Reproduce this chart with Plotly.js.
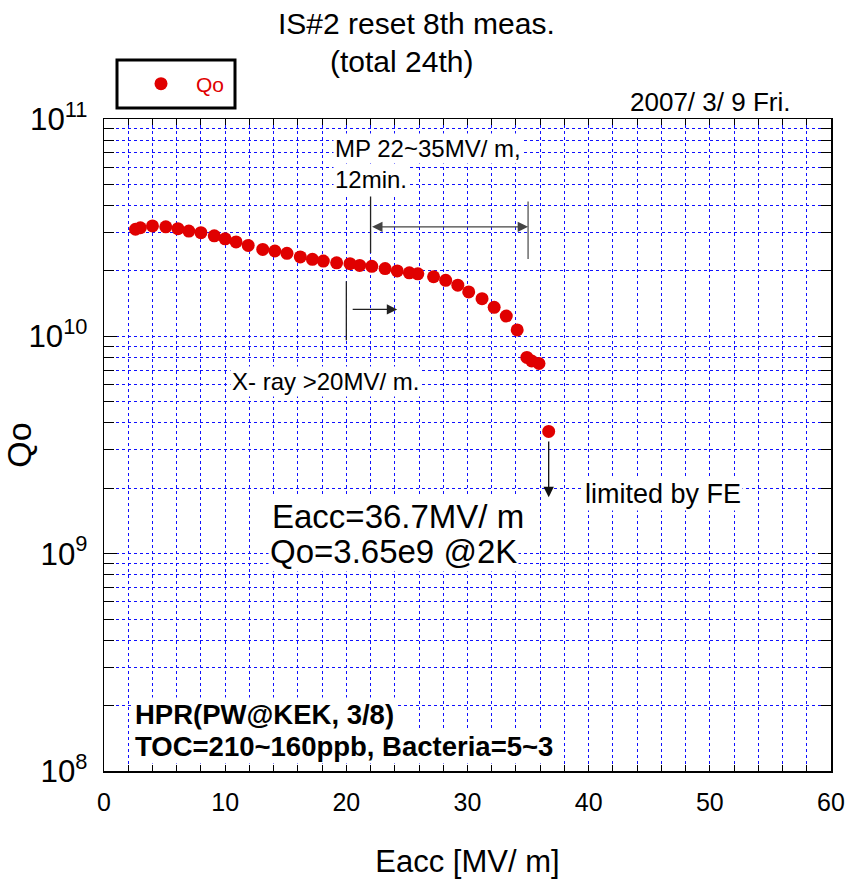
<!DOCTYPE html>
<html>
<head>
<meta charset="utf-8">
<script src="https://cdn.plot.ly/plotly-3.0.1.min.js"></script>
<style>html,body{margin:0;padding:0;background:#fff;}#chart{width:850px;height:883px;}</style>
</head>
<body>
<div id="chart"></div>
<script>
// Data
var eacc = [2.6, 3.0, 4.0, 5.1, 6.1, 7.0, 8.0, 9.1, 10.0, 10.9, 11.9, 13.1, 14.1, 15.1, 16.2, 17.2, 18.1, 19.2, 20.3, 21.1, 22.1, 23.2, 24.2, 25.2, 25.9, 27.2, 28.2, 29.2, 30.1, 31.2, 32.2, 33.2, 34.1, 34.9, 35.3, 35.9, 36.7];
var qo = [3.11e10, 3.16e10, 3.22e10, 3.19e10, 3.13e10, 3.05e10, 3.00e10, 2.90e10, 2.81e10, 2.72e10, 2.62e10, 2.51e10, 2.47e10, 2.41e10, 2.32e10, 2.26e10, 2.22e10, 2.18e10, 2.16e10, 2.12e10, 2.10e10, 2.05e10, 2.00e10, 1.96e10, 1.94e10, 1.88e10, 1.81e10, 1.72e10, 1.60e10, 1.49e10, 1.36e10, 1.24e10, 1.07e10, 8.0e9, 7.7e9, 7.5e9, 3.65e9];
var xTicks = [0, 10, 20, 30, 40, 50, 60];

var FONT = 'Liberation Sans, Arial, Helvetica, sans-serif';
var GRID = '#1010ff';
var DASH = '3px,3px';

// plot area geometry (px) used to place paper-referenced texts
var L = 104, R = 831, T = 119, B = 771;
function px(x){ return (x - L) / (R - L); }
function py(y){ return (B - y) / (B - T); }
function lg(v){ return Math.log10(v); }

function txt(text, x, y, size, opts){
  var a = {text: text, xref: 'paper', yref: 'paper', x: px(x), y: py(y), xanchor: 'left', yanchor: 'middle',
    showarrow: false, font: {family: FONT, size: size, color: '#000'}, bgcolor: '#fff', borderpad: 1};
  for (var k in (opts || {})) a[k] = opts[k];
  return a;
}
function arrowAnn(x0, y0, x1, y1, opts){
  var a = {x: x1, y: lg(y1), ax: x0, ay: lg(y0), xref: 'x', yref: 'y', axref: 'x', ayref: 'y',
    text: '', showarrow: true, arrowhead: 2, arrowsize: 1.6, arrowwidth: 1.3, arrowcolor: '#222', standoff: 0, startstandoff: 0};
  for (var k in (opts || {})) a[k] = opts[k];
  return a;
}
function lineAnn(x0, y0, x1, y1, color){
  return arrowAnn(x0, y0, x1, y1, {arrowhead: 0, arrowcolor: color || '#222', arrowwidth: 1.3});
}

var trace = {
  x: eacc, y: qo, type: 'scatter', mode: 'markers', name: 'Qo',
  marker: {color: '#e00000', size: 13, line: {width: 0}}
};

var annotations = [
  txt('IS#2 reset 8th meas.', 416.5, 23.5, 30, {xanchor: 'center', bgcolor: 'rgba(0,0,0,0)'}),
  txt('(total 24th)', 401.7, 61.5, 30, {xanchor: 'center', bgcolor: 'rgba(0,0,0,0)'}),
  txt('2007/ 3/ 9 Fri.', 792, 101.7, 26, {xanchor: 'right', bgcolor: 'rgba(0,0,0,0)'}),
  txt('MP 22~35MV/ m,', 333, 149, 24),
  txt('12min.', 333, 179.5, 24),
  txt('X- ray >20MV/ m.', 230, 381, 24),
  txt('limited by FE', 583, 494, 27),
  txt('Eacc=36.7MV/ m', 270, 516.7, 33),
  txt('Qo=3.65e9 @2K', 268, 551.7, 33),
  txt('<b>HPR(PW@KEK, 3/8)</b>', 133, 714, 27.5),
  txt('<b>TOC=210~160ppb, Bacteria=5~3</b>', 133, 746, 27.5),
  // MP range markers
  lineAnn(22, 4.47e10, 22, 2.42e10, '#222'),
  lineAnn(35, 4.24e10, 35, 2.27e10, '#555'),
  arrowAnn(22, 3.19e10, 35, 3.19e10, {arrowside: 'end+start', startarrowhead: 2, startarrowsize: 1.6, arrowcolor: '#444'}),
  // X-ray onset
  lineAnn(20, 1.82e10, 20, 9.6e9, '#222'),
  arrowAnn(20.4, 1.33e10, 24.2, 1.33e10, {arrowcolor: '#222'}),
  // limited by FE
  arrowAnn(36.7, 3.33e9, 36.7, 1.82e9, {arrowcolor: '#111'})
];

var axisCommon = {
  showline: true, linecolor: '#000', linewidth: 1.5, mirror: 'ticks',
  ticks: 'inside', tickcolor: '#000', tickwidth: 1,
  showgrid: true, gridcolor: GRID, gridwidth: 1, griddash: DASH,
  zeroline: false, tickfont: {family: FONT, size: 25, color: '#000'}
};

var layout = {
  width: 850, height: 883,
  margin: {l: L, r: 850 - R, t: T, b: 883 - B},
  paper_bgcolor: '#fff', plot_bgcolor: '#fff',
  font: {family: FONT, color: '#000'},
  showlegend: true,
  legend: {x: px(126), xanchor: 'left', y: py(84), yanchor: 'middle', bgcolor: 'rgba(0,0,0,0)', borderwidth: 0,
    font: {family: FONT, size: 21, color: '#e00000'}, itemwidth: 60},
  xaxis: Object.assign({}, axisCommon, {
    range: [0, 60], tickvals: xTicks, ticktext: xTicks.map(String), ticklen: 6,
    minor: {dtick: 2, tick0: 0, ticks: 'inside', ticklen: 6, tickcolor: '#000', showgrid: true, gridcolor: GRID, griddash: DASH, gridwidth: 1},
    ticklabelstandoff: 8,
    title: {text: 'Eacc [MV/ m]', font: {family: FONT, size: 31, color: '#000'}, standoff: 36}
  }),
  yaxis: Object.assign({}, axisCommon, {
    type: 'log', range: [8, 11], dtick: 1, exponentformat: 'power', showexponent: 'all', ticklen: 13,
    minor: {dtick: 'D1', ticks: 'inside', ticklen: 10, tickcolor: '#000', showgrid: true, gridcolor: GRID, griddash: DASH, gridwidth: 1},
    ticklabelstandoff: 10,
    title: {text: 'Qo', font: {family: FONT, size: 34, color: '#000'}, standoff: 12}
  }),
  shapes: [
    {type: 'rect', xref: 'paper', yref: 'paper', x0: px(117), x1: px(235), y0: py(108), y1: py(60), line: {color: '#000', width: 3}, fillcolor: 'rgba(0,0,0,0)', layer: 'above'}
  ],
  annotations: annotations
};

Plotly.newPlot('chart', [trace], layout, {displayModeBar: false, staticPlot: true});
</script>
</body>
</html>
